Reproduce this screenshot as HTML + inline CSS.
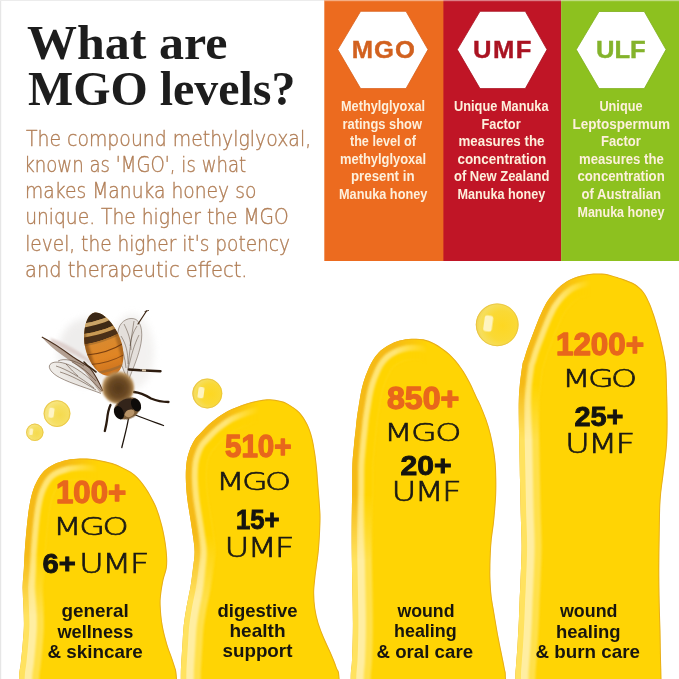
<!DOCTYPE html>
<html lang="en">
<head>
<meta charset="utf-8">
<title>What are MGO levels?</title>
<style>
html,body{margin:0;padding:0;background:#fff;}
body{width:679px;height:679px;overflow:hidden;position:relative;}
svg{display:block;position:absolute;left:0;top:0;}
text{white-space:pre;}
.title{font-family:"Liberation Serif","DejaVu Serif",serif;font-weight:700;fill:#1d1d1d;}
.body{font-family:"DejaVu Sans Light","DejaVu Sans","Liberation Sans",sans-serif;font-weight:200;fill:#b07d55;stroke:#b07d55;stroke-width:0.35;}
.pt{font-family:"Liberation Sans","DejaVu Sans",sans-serif;font-weight:700;fill:#fdf0dc;}
.hx{font-family:"Liberation Sans","DejaVu Sans",sans-serif;font-weight:700;stroke-width:0.4;}
.num{font-family:"Liberation Sans","DejaVu Sans",sans-serif;font-weight:700;fill:#e8671c;stroke:#e8671c;stroke-width:1.3;stroke-linejoin:round;}
.lt{font-family:"DejaVu Sans Light","DejaVu Sans","Liberation Sans",sans-serif;font-weight:200;fill:#1c1a14;stroke:#1c1a14;stroke-width:0.65;}
.bk{font-family:"Liberation Sans","DejaVu Sans",sans-serif;font-weight:700;fill:#15140f;stroke:#15140f;stroke-width:0.9;}
.use{font-family:"Liberation Sans","DejaVu Sans",sans-serif;font-weight:700;fill:#17150f;}
</style>
</head>
<body>
<svg width="679" height="679" viewBox="0 0 679 679">
<defs>
  <linearGradient id="hg" x1="0" y1="0" x2="1" y2="0">
    <stop offset="0" stop-color="#f9c116"/>
    <stop offset="0.12" stop-color="#fdca14"/>
    <stop offset="0.3" stop-color="#ffd20e"/>
    <stop offset="0.9" stop-color="#ffd10c"/>
    <stop offset="1" stop-color="#fbc40f"/>
  </linearGradient>
  <linearGradient id="lm" x1="0" y1="0" x2="1" y2="0">
    <stop offset="0" stop-color="#fff"/>
    <stop offset="0.3" stop-color="#fff"/>
    <stop offset="0.5" stop-color="#000"/>
    <stop offset="1" stop-color="#000"/>
  </linearGradient>
  <radialGradient id="bub" cx="0.62" cy="0.52" r="0.62">
    <stop offset="0" stop-color="#fdd722"/>
    <stop offset="0.55" stop-color="#fad935"/>
    <stop offset="0.85" stop-color="#f6de5c"/>
    <stop offset="1" stop-color="#f1d252"/>
  </radialGradient>
  <radialGradient id="bubp" cx="0.62" cy="0.55" r="0.62">
    <stop offset="0" stop-color="#f5da4e"/>
    <stop offset="0.55" stop-color="#f6df62"/>
    <stop offset="0.85" stop-color="#f7e57e"/>
    <stop offset="1" stop-color="#f3dc6c"/>
  </radialGradient>
  <filter id="b1" x="-20%" y="-20%" width="140%" height="140%"><feGaussianBlur stdDeviation="1.2"/></filter>
  <filter id="b2" x="-20%" y="-20%" width="140%" height="140%"><feGaussianBlur stdDeviation="2.2"/></filter>
  <filter id="b3" x="-20%" y="-20%" width="140%" height="140%"><feGaussianBlur stdDeviation="3.5"/></filter>
  <filter id="b05" x="-20%" y="-20%" width="140%" height="140%"><feGaussianBlur stdDeviation="0.6"/></filter>
  <path id="p1" d="M19.0,730.0 C19.0,721.5 18.8,690.0 19.1,679.0 C19.4,668.0 20.1,669.7 20.7,664.0 C21.3,658.3 22.1,651.4 22.6,645.0 C23.1,638.6 23.8,632.1 23.9,625.6 C24.0,619.1 23.6,612.4 23.4,606.0 C23.2,599.6 22.5,593.3 22.6,587.0 C22.7,580.7 23.5,574.3 23.9,568.0 C24.3,561.7 24.4,555.9 24.9,549.0 C25.4,542.1 26.1,533.5 26.8,526.6 C27.5,519.7 28.2,513.2 29.1,507.4 C30.1,501.6 31.1,496.5 32.5,492.0 C33.9,487.5 35.4,484.1 37.3,480.6 C39.2,477.1 41.3,473.7 44.0,471.0 C46.7,468.3 49.8,466.2 53.6,464.4 C57.4,462.6 62.6,461.0 67.0,460.0 C71.4,459.0 76.2,458.8 80.0,458.6 C83.8,458.4 86.7,458.5 90.0,458.8 C93.3,459.1 96.7,459.6 100.0,460.2 C103.3,460.8 106.8,461.7 110.0,462.6 C113.2,463.5 115.0,463.8 119.1,465.8 C123.2,467.8 130.0,470.8 134.5,474.5 C139.0,478.2 142.5,482.8 146.0,487.9 C149.5,493.0 152.9,499.4 155.5,505.1 C158.1,510.8 159.7,516.5 161.3,522.3 C162.9,528.0 164.2,534.2 165.1,539.6 C166.0,545.0 166.7,550.2 167.0,554.9 C167.3,559.6 167.4,563.8 166.8,568.0 C166.2,572.2 164.4,575.7 163.5,580.0 C162.6,584.3 161.7,589.6 161.2,594.0 C160.7,598.4 160.4,601.1 160.7,606.4 C160.9,611.7 161.6,619.2 162.7,625.6 C163.8,632.0 165.5,638.3 167.4,644.7 C169.3,651.1 172.5,658.2 174.1,663.9 C175.7,669.6 176.4,668.0 177.0,679.0 C177.6,690.0 177.4,721.5 177.5,730.0 Z"/>
  <clipPath id="c1"><use href="#p1"/></clipPath>
  <mask id="m1" maskUnits="userSpaceOnUse" x="0" y="250" width="679" height="450"><rect x="14" y="250" width="168" height="450" fill="url(#lm)"/></mask>
  <path id="p2" d="M180.8,730.0 C180.8,721.5 180.7,690.0 180.8,679.0 C180.9,668.0 180.9,669.7 181.2,664.0 C181.5,658.3 182.0,651.4 182.4,645.0 C182.8,638.6 183.0,632.0 183.7,625.6 C184.4,619.2 185.5,612.8 186.6,606.4 C187.7,600.0 189.3,593.7 190.4,587.3 C191.5,580.9 192.3,573.9 193.0,568.0 C193.7,562.1 194.6,557.4 194.6,552.0 C194.6,546.6 193.7,541.6 192.9,535.7 C192.1,529.8 191.0,523.0 190.0,516.6 C189.0,510.2 187.8,503.8 187.1,497.4 C186.4,491.0 185.9,484.2 185.8,478.3 C185.7,472.4 186.0,466.6 186.6,462.0 C187.2,457.4 188.2,454.1 189.5,450.4 C190.8,446.7 192.7,442.9 194.5,440.0 C196.3,437.1 197.7,436.1 200.6,433.0 C203.5,429.9 207.6,425.3 212.1,421.7 C216.6,418.1 221.7,414.2 227.4,411.2 C233.2,408.2 241.2,405.3 246.6,403.5 C252.0,401.7 256.1,401.0 260.0,400.3 C263.9,399.6 266.7,399.2 270.0,399.3 C273.3,399.4 276.9,400.0 280.0,400.8 C283.1,401.6 285.0,401.9 288.3,403.9 C291.6,405.8 296.6,409.1 299.8,412.5 C303.0,415.9 305.3,419.9 307.4,424.0 C309.5,428.1 310.9,432.6 312.2,437.4 C313.5,442.2 314.3,447.7 315.1,452.8 C315.9,457.9 316.4,462.4 317.0,468.1 C317.6,473.8 318.0,481.1 318.5,487.2 C319.0,493.3 319.6,499.6 319.9,505.0 C320.2,510.4 320.6,512.2 320.5,519.5 C320.4,526.8 319.9,539.2 319.0,549.0 C318.1,558.8 316.1,570.9 315.3,578.4 C314.5,585.9 314.2,588.7 314.2,593.7 C314.2,598.7 314.6,603.6 315.3,608.5 C316.0,613.4 317.1,618.3 318.6,623.2 C320.1,628.1 322.2,633.1 324.2,638.0 C326.2,642.9 328.7,647.7 330.8,652.6 C332.9,657.5 335.2,663.0 336.7,667.4 C338.2,671.8 339.1,668.6 339.6,679.0 C340.2,689.4 339.9,721.5 340.0,730.0 Z"/>
  <clipPath id="c2"><use href="#p2"/></clipPath>
  <mask id="m2" maskUnits="userSpaceOnUse" x="0" y="250" width="679" height="450"><rect x="175" y="250" width="169" height="450" fill="url(#lm)"/></mask>
  <path id="p3" d="M350.5,730.0 C350.5,721.5 350.4,690.7 350.7,679.0 C350.9,667.3 351.6,669.3 352.0,660.0 C352.4,650.7 352.9,636.5 352.9,623.0 C352.9,609.5 352.4,591.3 352.2,579.0 C352.0,566.7 351.8,558.9 351.7,549.0 C351.6,539.1 351.6,529.3 351.7,519.5 C351.8,509.7 352.1,499.2 352.2,490.0 C352.3,480.8 352.1,471.5 352.4,464.0 C352.7,456.5 353.5,450.7 354.0,445.0 C354.5,439.3 355.1,434.4 355.6,430.0 C356.1,425.6 356.3,422.3 356.8,418.4 C357.3,414.5 357.9,410.8 358.6,406.6 C359.3,402.4 360.0,397.5 360.8,393.3 C361.6,389.1 362.5,385.4 363.7,381.5 C364.9,377.6 366.5,373.5 368.1,369.8 C369.7,366.1 371.2,362.7 373.3,359.5 C375.4,356.3 378.0,353.1 380.7,350.6 C383.4,348.1 386.3,346.4 389.5,344.7 C392.7,343.0 396.1,341.6 399.8,340.6 C403.5,339.6 407.7,339.0 411.6,338.8 C415.5,338.6 419.5,338.5 423.4,339.3 C427.2,340.1 430.3,341.1 434.7,343.5 C439.1,345.9 445.1,350.0 449.5,354.0 C453.9,358.0 457.8,362.9 461.2,367.7 C464.6,372.4 467.4,377.6 470.0,382.5 C472.6,387.4 474.9,393.3 476.7,397.0 C478.4,400.7 478.9,400.9 480.5,404.7 C482.1,408.4 484.7,414.6 486.4,419.5 C488.1,424.4 489.6,429.3 490.8,434.2 C492.0,439.1 493.0,444.1 493.8,449.0 C494.6,453.9 495.3,458.7 495.7,463.6 C496.1,468.5 496.2,473.2 496.3,478.4 C496.4,483.6 496.4,489.5 496.2,494.7 C496.0,499.9 495.6,504.6 495.2,509.5 C494.8,514.4 494.4,519.3 493.8,524.2 C493.2,529.1 492.3,534.1 491.8,539.0 C491.3,543.9 491.0,548.7 490.8,553.6 C490.6,558.5 490.4,564.0 490.4,568.4 C490.3,572.8 490.3,575.6 490.5,580.0 C490.7,584.4 491.0,590.2 491.5,595.0 C492.0,599.8 492.4,601.3 493.6,608.5 C494.8,615.7 496.9,628.2 498.7,638.0 C500.5,647.8 503.4,660.6 504.6,667.4 C505.8,674.2 505.7,668.6 506.0,679.0 C506.3,689.4 506.2,721.5 506.3,730.0 Z"/>
  <clipPath id="c3"><use href="#p3"/></clipPath>
  <mask id="m3" maskUnits="userSpaceOnUse" x="0" y="250" width="679" height="450"><rect x="345" y="250" width="165" height="450" fill="url(#lm)"/></mask>
  <path id="p4" d="M515.2,730.0 C515.2,721.5 515.3,689.7 515.4,679.0 C515.5,668.3 515.6,671.4 516.0,665.7 C516.4,660.0 517.0,652.8 517.5,645.0 C518.0,637.2 518.5,626.5 518.9,619.0 C519.2,611.5 519.4,606.0 519.6,600.0 C519.9,594.0 520.1,591.6 520.4,583.0 C520.7,574.4 521.5,559.9 521.6,548.4 C521.7,536.9 521.0,525.4 520.7,514.0 C520.4,502.6 520.2,491.5 520.0,480.0 C519.8,468.5 519.5,455.0 519.3,445.0 C519.1,435.0 518.9,427.5 518.8,420.0 C518.7,412.5 518.6,405.8 518.8,400.0 C519.0,394.2 519.2,390.8 519.8,385.0 C520.4,379.2 521.7,369.3 522.4,365.0 C523.1,360.7 523.2,362.2 524.1,359.3 C525.0,356.4 526.4,351.4 527.8,347.5 C529.1,343.6 530.7,339.6 532.2,335.7 C533.7,331.8 535.1,327.8 536.7,323.9 C538.3,320.0 540.1,315.8 541.8,312.1 C543.5,308.4 545.0,305.0 547.0,301.8 C549.0,298.6 551.3,295.7 553.6,293.0 C555.9,290.3 558.3,287.8 561.0,285.6 C563.7,283.4 566.4,281.4 569.8,279.7 C573.2,278.0 577.7,276.6 581.6,275.6 C585.5,274.6 589.5,273.9 593.4,273.6 C597.3,273.3 601.4,273.3 605.0,273.8 C608.6,274.3 612.0,275.5 615.0,276.4 C618.0,277.3 619.9,277.7 623.2,279.0 C626.5,280.3 631.6,281.9 635.0,284.1 C638.4,286.3 641.3,289.0 643.8,292.2 C646.2,295.4 648.0,299.5 649.7,303.3 C651.4,307.1 652.6,310.7 654.1,315.1 C655.6,319.5 657.1,324.9 658.5,329.8 C659.9,334.7 661.1,339.6 662.2,344.5 C663.3,349.4 664.5,355.1 665.2,359.3 C665.9,363.6 666.0,363.6 666.4,370.0 C666.8,376.4 667.1,389.3 667.3,397.6 C667.5,405.9 667.6,412.1 667.6,420.0 C667.6,427.9 667.6,436.2 667.0,445.0 C666.4,453.8 664.9,463.4 663.8,472.6 C662.7,481.8 661.3,489.6 660.6,500.0 C659.9,510.4 659.9,523.2 659.7,534.7 C659.5,546.2 659.3,557.5 659.3,569.0 C659.3,580.5 659.5,593.3 659.7,603.6 C659.9,613.9 660.3,621.8 660.5,631.0 C660.7,640.2 660.8,650.8 661.0,658.8 C661.2,666.8 661.4,667.1 661.5,679.0 C661.6,690.9 661.8,721.5 661.8,730.0 Z"/>
  <clipPath id="c4"><use href="#p4"/></clipPath>
  <mask id="m4" maskUnits="userSpaceOnUse" x="0" y="250" width="679" height="450"><rect x="510" y="250" width="162" height="450" fill="url(#lm)"/></mask>
  <linearGradient id="abd" x1="0" y1="0" x2="0" y2="1">
    <stop offset="0" stop-color="#b98a4a"/><stop offset="0.42" stop-color="#d88a30"/><stop offset="0.7" stop-color="#e08524"/><stop offset="1" stop-color="#c96f1c"/>
  </linearGradient>
  <clipPath id="abdc"><path d="M0,-30.5 C8,-30.5 15.5,-17 17.8,-1 C20,14 15,34 1,35 C-13,35 -19.5,15 -17.8,-1 C-15.5,-17 -8,-30.5 0,-30.5 Z"/></clipPath>
  <radialGradient id="thx" cx="0.5" cy="0.5" r="0.5">
    <stop offset="0" stop-color="#553819"/><stop offset="0.65" stop-color="#6b4924"/><stop offset="1" stop-color="#94703f"/>
  </radialGradient>
  <linearGradient id="tg1" gradientUnits="userSpaceOnUse" x1="0" y1="555" x2="0" y2="615"><stop offset="0" stop-color="#fff"/><stop offset="1" stop-color="#000"/></linearGradient>
  <mask id="t1" maskUnits="userSpaceOnUse" x="0" y="250" width="679" height="450"><rect x="0" y="250" width="679" height="450" fill="url(#tg1)"/></mask>
  <linearGradient id="tg2" gradientUnits="userSpaceOnUse" x1="0" y1="535" x2="0" y2="600"><stop offset="0" stop-color="#fff"/><stop offset="1" stop-color="#000"/></linearGradient>
  <mask id="t2" maskUnits="userSpaceOnUse" x="0" y="250" width="679" height="450"><rect x="0" y="250" width="679" height="450" fill="url(#tg2)"/></mask>
  <linearGradient id="tg3" gradientUnits="userSpaceOnUse" x1="0" y1="495" x2="0" y2="560"><stop offset="0" stop-color="#fff"/><stop offset="1" stop-color="#000"/></linearGradient>
  <mask id="t3" maskUnits="userSpaceOnUse" x="0" y="250" width="679" height="450"><rect x="0" y="250" width="679" height="450" fill="url(#tg3)"/></mask>
  <linearGradient id="tg4" gradientUnits="userSpaceOnUse" x1="0" y1="385" x2="0" y2="440"><stop offset="0" stop-color="#fff"/><stop offset="1" stop-color="#000"/></linearGradient>
  <mask id="t4" maskUnits="userSpaceOnUse" x="0" y="250" width="679" height="450"><rect x="0" y="250" width="679" height="450" fill="url(#tg4)"/></mask>
</defs>
<rect width="679" height="679" fill="#ffffff"/>
<rect x="0" y="0" width="1.2" height="679" fill="#e6e6e6"/>
<rect x="0" y="0" width="324.3" height="1" fill="#ececec"/>
<rect x="324.3" y="0" width="120" height="261" fill="#ec6b1f"/>
<rect x="443.4" y="0" width="118" height="261" fill="#c01526"/>
<rect x="561.2" y="0" width="118" height="261" fill="#8dc11f"/>
<rect x="324.3" y="0" width="354.7" height="1.2" fill="#ffffff" opacity="0.45"/>
<polygon points="337.8,49.6 360.6,11.3 406,11.3 428,49.6 406,88.6 360.6,88.6" fill="#fff" stroke="#d9601a" stroke-width="0.8"/>
<polygon points="457.3,49.6 480,11.3 525.3,11.3 547,49.6 525.3,88.6 480,88.6" fill="#fff" stroke="#a80f1e" stroke-width="0.8"/>
<polygon points="576.3,49.6 599,11.5 644.3,11.5 666,49.6 644.3,88.6 599,88.6" fill="#fff" stroke="#7eae1a" stroke-width="0.8"/>
<text id="t1" class="hx" transform="translate(351.80 58.3) scale(1.0800 1)" font-size="23.7" letter-spacing="0.926" fill="#d2611f" stroke="#d2611f">MGO</text>
<text id="t2" class="hx" transform="translate(473.00 58.3) scale(1.0800 1)" font-size="23.7" letter-spacing="1.389" fill="#aa1322" stroke="#aa1322">UMF</text>
<text id="t3" class="hx" transform="translate(596.10 58.3) scale(1.0800 1)" font-size="23.7" letter-spacing="-0.095" fill="#84b32b" stroke="#84b32b">ULF</text>
<text id="t4" class="pt" transform="translate(341.00 111.1) scale(0.9152 1)" font-size="13.9">Methylglyoxal</text>
<text id="t5" class="pt" transform="translate(342.50 128.6) scale(0.9280 1)" font-size="13.9">ratings show</text>
<text id="t6" class="pt" transform="translate(349.95 146.1) scale(0.9094 1)" font-size="13.9">the level of</text>
<text id="t7" class="pt" transform="translate(339.97 163.6) scale(0.9299 1)" font-size="13.9">methylglyoxal</text>
<text id="t8" class="pt" transform="translate(350.99 181.1) scale(0.9567 1)" font-size="13.9">present in</text>
<text id="t9" class="pt" transform="translate(339.00 198.7) scale(0.9156 1)" font-size="13.9">Manuka honey</text>
<text id="t10" class="pt" transform="translate(453.98 111.1) scale(0.9209 1)" font-size="13.9">Unique Manuka</text>
<text id="t11" class="pt" transform="translate(481.52 128.6) scale(0.9216 1)" font-size="13.9">Factor</text>
<text id="t12" class="pt" transform="translate(458.50 146.1) scale(0.9598 1)" font-size="13.9">measures the</text>
<text id="t13" class="pt" transform="translate(457.43 163.6) scale(0.9662 1)" font-size="13.9">concentration</text>
<text id="t14" class="pt" transform="translate(453.96 181.1) scale(0.9361 1)" font-size="13.9">of New Zealand</text>
<text id="t15" class="pt" transform="translate(457.45 198.7) scale(0.9111 1)" font-size="13.9">Manuka honey</text>
<text id="t16" class="pt" transform="translate(599.45 111.1) scale(0.9141 1)" font-size="13.9">Unique</text>
<text id="t17" class="pt" transform="translate(572.51 128.6) scale(0.9724 1)" font-size="13.9">Leptospermum</text>
<text id="t18" class="pt" transform="translate(601.00 146.1) scale(0.9362 1)" font-size="13.9">Factor</text>
<text id="t19" class="pt" transform="translate(579.01 163.6) scale(0.9462 1)" font-size="13.9">measures the</text>
<text id="t20" class="pt" transform="translate(577.47 181.1) scale(0.9505 1)" font-size="13.9">concentration</text>
<text id="t21" class="pt" transform="translate(581.47 198.9) scale(0.9424 1)" font-size="13.9">of Australian</text>
<text id="t22" class="pt" transform="translate(577.48 216.7) scale(0.9006 1)" font-size="13.9">Manuka honey</text>
<text id="t23" class="title" transform="translate(27.00 59.4) scale(1.0205 1)" font-size="49">What are</text>
<text id="t24" class="title" transform="translate(28.00 105.2) scale(0.9779 1)" font-size="49">MGO levels?</text>
<text id="t25" class="body" transform="translate(26.00 145.8) scale(0.9158 1)" font-size="20.6">The compound methylglyoxal,</text>
<text id="t26" class="body" transform="translate(24.19 172.1) scale(0.8822 1)" font-size="20.6">known as 'MGO', is what</text>
<text id="t27" class="body" transform="translate(25.12 198.4) scale(0.9089 1)" font-size="20.6">makes Manuka honey so</text>
<text id="t28" class="body" transform="translate(25.14 224.4) scale(0.9072 1)" font-size="20.6">unique. The higher the MGO</text>
<text id="t29" class="body" transform="translate(25.21 250.8) scale(0.9013 1)" font-size="20.6">level, the higher it's potency</text>
<text id="t30" class="body" transform="translate(25.08 277.2) scale(0.9422 1)" font-size="20.6">and therapeutic effect.</text>
<g id="blobs">
 <g clip-path="url(#c1)">
  <use href="#p1" fill="#ffd404"/>
  <use href="#p1" fill="none" stroke="#e2a420" stroke-width="2" filter="url(#b05)" opacity="0.8"/>
  <g mask="url(#m1)">
   <use href="#p1" fill="none" stroke="#ffe04c" stroke-width="40" filter="url(#b1)"/>
   <use href="#p1" fill="none" stroke="#ffeea2" stroke-width="26" filter="url(#b1)"/>
   <use href="#p1" fill="none" stroke="#ffe25e" stroke-width="11" filter="url(#b05)"/>
   <g mask="url(#t1)"><use href="#p1" fill="none" stroke="#ffd404" stroke-width="42" filter="url(#b1)"/><use href="#p1" fill="none" stroke="#ffe576" stroke-width="24" filter="url(#b1)"/><use href="#p1" fill="none" stroke="#f5ba18" stroke-width="12" filter="url(#b1)"/></g>
  </g>
 </g>
 <g clip-path="url(#c2)">
  <use href="#p2" fill="#ffd404"/>
  <use href="#p2" fill="none" stroke="#e2a420" stroke-width="2" filter="url(#b05)" opacity="0.8"/>
  <g mask="url(#m2)">
   <use href="#p2" fill="none" stroke="#ffe04c" stroke-width="40" filter="url(#b1)"/>
   <use href="#p2" fill="none" stroke="#ffeea2" stroke-width="26" filter="url(#b1)"/>
   <use href="#p2" fill="none" stroke="#ffe25e" stroke-width="11" filter="url(#b05)"/>
   <g mask="url(#t2)"><use href="#p2" fill="none" stroke="#ffd404" stroke-width="42" filter="url(#b1)"/><use href="#p2" fill="none" stroke="#ffe576" stroke-width="24" filter="url(#b1)"/><use href="#p2" fill="none" stroke="#f5ba18" stroke-width="12" filter="url(#b1)"/></g>
  </g>
 </g>
 <g clip-path="url(#c3)">
  <use href="#p3" fill="#ffd404"/>
  <use href="#p3" fill="none" stroke="#e2a420" stroke-width="2" filter="url(#b05)" opacity="0.8"/>
  <g mask="url(#m3)">
   <use href="#p3" fill="none" stroke="#ffe04c" stroke-width="40" filter="url(#b1)"/>
   <use href="#p3" fill="none" stroke="#ffeea2" stroke-width="26" filter="url(#b1)"/>
   <use href="#p3" fill="none" stroke="#ffe25e" stroke-width="11" filter="url(#b05)"/>
   <g mask="url(#t3)"><use href="#p3" fill="none" stroke="#ffd404" stroke-width="42" filter="url(#b1)"/><use href="#p3" fill="none" stroke="#ffe576" stroke-width="24" filter="url(#b1)"/><use href="#p3" fill="none" stroke="#f5ba18" stroke-width="12" filter="url(#b1)"/></g>
  </g>
 </g>
 <g clip-path="url(#c4)">
  <use href="#p4" fill="#ffd404"/>
  <use href="#p4" fill="none" stroke="#e2a420" stroke-width="2" filter="url(#b05)" opacity="0.8"/>
  <g mask="url(#m4)">
   <use href="#p4" fill="none" stroke="#ffe04c" stroke-width="40" filter="url(#b1)"/>
   <use href="#p4" fill="none" stroke="#ffeea2" stroke-width="26" filter="url(#b1)"/>
   <use href="#p4" fill="none" stroke="#ffe25e" stroke-width="11" filter="url(#b05)"/>
   <g mask="url(#t4)"><use href="#p4" fill="none" stroke="#ffd404" stroke-width="42" filter="url(#b1)"/><use href="#p4" fill="none" stroke="#ffe576" stroke-width="24" filter="url(#b1)"/><use href="#p4" fill="none" stroke="#f5ba18" stroke-width="12" filter="url(#b1)"/></g>
  </g>
 </g>
</g>
<circle cx="57.0" cy="413.6" r="13.4" fill="url(#bubp)"/>
<circle cx="57.0" cy="413.6" r="12.9" fill="none" stroke="#e6bd3a" stroke-width="1" opacity="0.7"/>
<rect x="48.7" y="407.8" width="5.4" height="9.9" rx="1.6" fill="#fff7cf" opacity="0.9" transform="rotate(8 51.4 412.8)" filter="url(#b05)"/>
<circle cx="34.8" cy="432.3" r="8.7" fill="url(#bubp)"/>
<circle cx="34.8" cy="432.3" r="8.2" fill="none" stroke="#e6bd3a" stroke-width="1" opacity="0.7"/>
<rect x="29.4" y="428.6" width="3.5" height="6.4" rx="1.0" fill="#fff7cf" opacity="0.9" transform="rotate(8 31.1 431.8)" filter="url(#b05)"/>
<circle cx="207.3" cy="393.5" r="15.0" fill="url(#bub)"/>
<circle cx="207.3" cy="393.5" r="14.5" fill="none" stroke="#e6bd3a" stroke-width="1" opacity="0.7"/>
<rect x="198.0" y="387.1" width="6.0" height="11.1" rx="1.8" fill="#fff7cf" opacity="0.9" transform="rotate(8 201.0 392.6)" filter="url(#b05)"/>
<circle cx="497.2" cy="324.8" r="21.4" fill="url(#bub)"/>
<circle cx="497.2" cy="324.8" r="20.9" fill="none" stroke="#e6bd3a" stroke-width="1" opacity="0.7"/>
<rect x="483.9" y="315.6" width="8.6" height="15.8" rx="2.6" fill="#fff7cf" opacity="0.9" transform="rotate(8 488.2 323.5)" filter="url(#b05)"/>
<text id="t31" class="num" transform="translate(56.02 503.0) scale(1.0212 1)" font-size="30.5">100+</text>
<text id="t32" class="lt" transform="translate(53.00 535.4) scale(1.3000 1)" font-size="25.6" letter-spacing="-1.923">MGO</text>
<text id="t33" class="bk" transform="translate(42.42 573.4) scale(1.0412 1)" font-size="28">6+</text>
<text id="t34" class="lt" transform="translate(79.00 573.2) scale(1.3000 1)" font-size="26.2" letter-spacing="-1.385">UMF</text>
<text id="t35" class="use" transform="translate(61.51 617.4) scale(1.0376 1)" font-size="18.2">general</text>
<text id="t36" class="use" transform="translate(57.47 637.6) scale(1.0006 1)" font-size="18.2">wellness</text>
<text id="t37" class="use" transform="translate(47.47 657.8) scale(1.0351 1)" font-size="18.2">&amp; skincare</text>
<text id="t38" class="num" transform="translate(224.97 457.3) scale(0.9690 1)" font-size="30.5">510+</text>
<text id="t39" class="lt" transform="translate(216.00 489.6) scale(1.3000 1)" font-size="25.6" letter-spacing="-2.073">MGO</text>
<text id="t40" class="bk" transform="translate(235.99 529.2) scale(0.9184 1)" font-size="28">15+</text>
<text id="t41" class="lt" transform="translate(224.50 557.3) scale(1.3000 1)" font-size="26.2" letter-spacing="-1.538">UMF</text>
<text id="t42" class="use" transform="translate(217.51 617.4) scale(1.0162 1)" font-size="18.2">digestive</text>
<text id="t43" class="use" transform="translate(229.47 637.4) scale(1.0463 1)" font-size="18.2">health</text>
<text id="t44" class="use" transform="translate(222.47 657.4) scale(1.0329 1)" font-size="18.2">support</text>
<text id="t45" class="num" transform="translate(387.00 409.0) scale(1.0530 1)" font-size="30.5">850+</text>
<text id="t46" class="lt" transform="translate(384.00 440.7) scale(1.3000 1)" font-size="25.6" letter-spacing="-1.231">MGO</text>
<text id="t47" class="bk" transform="translate(400.47 474.6) scale(1.0768 1)" font-size="28">20+</text>
<text id="t48" class="lt" transform="translate(391.50 501.0) scale(1.3000 1)" font-size="26.2" letter-spacing="-1.464">UMF</text>
<text id="t49" class="use" transform="translate(397.42 617.4) scale(0.9745 1)" font-size="18.2">wound</text>
<text id="t50" class="use" transform="translate(394.00 637.4) scale(0.9842 1)" font-size="18.2">healing</text>
<text id="t51" class="use" transform="translate(376.50 657.8) scale(1.0264 1)" font-size="18.2">&amp; oral care</text>
<text id="t52" class="num" transform="translate(555.92 354.8) scale(1.0296 1)" font-size="30.5">1200+</text>
<text id="t53" class="lt" transform="translate(562.00 386.5) scale(1.3000 1)" font-size="25.6" letter-spacing="-2.080">MGO</text>
<text id="t54" class="bk" transform="translate(574.42 426.0) scale(1.0326 1)" font-size="28">25+</text>
<text id="t55" class="lt" transform="translate(565.00 453.0) scale(1.3000 1)" font-size="26.2" letter-spacing="-1.462">UMF</text>
<text id="t56" class="use" transform="translate(559.96 617.4) scale(0.9810 1)" font-size="18.2">wound</text>
<text id="t57" class="use" transform="translate(556.00 637.6) scale(1.0132 1)" font-size="18.2">healing</text>
<text id="t58" class="use" transform="translate(535.47 657.7) scale(1.0343 1)" font-size="18.2">&amp; burn care</text>
<g id="bee">
  <!-- soft shadow -->
  <ellipse cx="88" cy="352" rx="30" ry="34" fill="#e9e7e6" filter="url(#b3)" opacity="0.75"/>
  <ellipse cx="132" cy="352" rx="22" ry="38" fill="#eeecea" filter="url(#b3)" opacity="0.7"/>
  <!-- left wings -->
  <path d="M50,338 C64,342 82,352 96,366 C90,363 70,352 52,343 Z" fill="#d9c8c4" opacity="0.8" filter="url(#b1)"/>
  <path d="M41.8,336.9 C52,342 63,349.5 72.7,356.8 C79,361 85,364.5 89.5,367.5 C95,374 99,382 103,391 L100,392.5 C95,386 90,378 84.5,371.5 C78,366 70,360.5 62,355 C54,349.5 47,343 41.8,336.9 Z" fill="#8a6a55" opacity="0.6"/>
  <path d="M41.8,336.9 C52,342 63,349.5 72.7,356.8 C79,361 85,364.5 89.5,367.5 C95,374 99,382 103,391" fill="none" stroke="#4a2e1c" stroke-width="1.1"/>
  <path d="M101,393.5 C90,389 72,384 59.5,377.5 C52,373.5 47.5,368 50,364.5 C53,361 60,361.5 68,364.5 C80,369.5 92,380 102,391 Z" fill="#cfc4b8" opacity="0.33"/>
  <path d="M101,393.5 C90,389 72,384 59.5,377.5 C52,373.5 47.5,368 50,364.5 C53,361 60,361.5 68,364.5 C80,369.5 92,380 102,391 M56,366 C66,369 80,377 94,388 M60,372 C70,375 82,381 96,390 M66,364 C70,368 72,371 78,376 M72,362 C80,366 88,372 96,381 M58,361 C64,358 74,360 84,366" fill="none" stroke="#4a3220" stroke-width="0.6" opacity="0.85"/>
  <!-- right wing -->
  <path d="M127,378 C119,362 115,342 118.5,329 C121,320 130,316.5 136,319.5 C142.5,323.5 143,336 140,348 C137,360 132,371 129,379 Z" fill="#c9c0b6" opacity="0.36"/>
  <path d="M127,378 C119,362 115,342 118.5,329 C121,320 130,316.5 136,319.5 C142.5,323.5 143,336 140,348 C137,360 132,371 129,379 M134,321 C131,338 129,358 127,377 M139,335 C134,345 131,356 128,370 M121,336 C126,344 128,352 128,364 M124,324 C128,332 131,340 131,350 M137,326 C133,332 131,338 130,346 M119,342 C123,350 125,358 126,368" fill="none" stroke="#4a3828" stroke-width="0.6" opacity="0.75"/>
  <!-- hind leg tip top right -->
  <path d="M138,324 L146.5,311" stroke="#3a2412" stroke-width="1.2" fill="none" stroke-linecap="round"/>
  <path d="M145,311.5 L148.5,310.5" stroke="#3a2412" stroke-width="0.9" fill="none" stroke-linecap="round"/>
  <!-- legs -->
  <path d="M129,369.5 L140,370.3 L160.5,371.2" stroke="#2e1d10" stroke-width="2.4" fill="none" stroke-linecap="round"/>
  <path d="M142,370.3 L146,370.5" stroke="#d9c4a6" stroke-width="2" fill="none"/>
  <path d="M134,392 C140,392.5 146,395.5 151,398.5 C157,401 163,402 168.5,402" stroke="#2a1a0e" stroke-width="2.3" fill="none" stroke-linecap="round"/>
  <path d="M110.5,405 C108,410 107.5,415 107,420 C106.5,424 105.5,428 104.8,431" stroke="#2a1a0e" stroke-width="2.3" fill="none" stroke-linecap="round"/>
  <path d="M96,372 L88,366 L84,362" stroke="#3a2412" stroke-width="1.6" fill="none" stroke-linecap="round"/>
  <!-- antennae -->
  <path d="M128.5,418 C127,428 124,438 121.8,447.5" stroke="#1e140c" stroke-width="1.3" fill="none" stroke-linecap="round"/>
  <path d="M135.5,415 C144,418.5 154,422 163.5,425.5" stroke="#1e140c" stroke-width="1.3" fill="none" stroke-linecap="round"/>
  <!-- abdomen -->
  <g transform="translate(102.3 342) rotate(-16)">
    <path d="M0,-30.5 C8,-30.5 15.5,-17 17.8,-1 C20,14 15,34 1,35 C-13,35 -19.5,15 -17.8,-1 C-15.5,-17 -8,-30.5 0,-30.5 Z" fill="url(#abd)"/>
    <g clip-path="url(#abdc)">
      <path d="M-20,-32 L20,-32 L20,-24 C8,-21.5 -8,-21.5 -20,-24 Z" fill="#3a2816"/>
      <path d="M-20,-24 C-8,-21.5 8,-21.5 20,-24 L20,-20 C8,-17.5 -8,-17.5 -20,-20 Z" fill="#c9a467"/>
      <path d="M-20,-20 C-8,-17.5 8,-17.5 20,-20 L20,-13.5 C8,-11 -8,-11 -20,-13.5 Z" fill="#3e2a16"/>
      <path d="M-20,-13.5 C-8,-11 8,-11 20,-13.5 L20,-10 C8,-7.5 -8,-7.5 -20,-10 Z" fill="#c79a55"/>
      <path d="M-20,-10 C-8,-7.5 8,-7.5 20,-10 L20,-4.5 C8,-1.5 -8,-1 -20,-3 Z" fill="#4a3018"/>
      <path d="M-20,-3 C-8,-1 8,-1.5 20,-4.5 L20,-2.5 C8,0.5 -8,1 -20,-1 Z" fill="#b5762c"/>
      <path d="M-20,8 C-8,10.5 8,10.5 20,7" stroke="#7a3f10" stroke-width="1" fill="none"/>
      <path d="M-20,18 C-8,21 8,21 20,17.5" stroke="#8a4a14" stroke-width="1" fill="none"/><path d="M-20,27 C-8,30 8,30 20,26" stroke="#9a6a34" stroke-width="2.5" fill="none" opacity="0.7"/>
      <rect x="-20" y="-31" width="6" height="62" fill="#5a3210" opacity="0.45" filter="url(#b1)"/>
      <rect x="14" y="-31" width="6" height="62" fill="#5a3210" opacity="0.35" filter="url(#b1)"/>
    </g>
  </g>
  <!-- thorax -->
  <circle cx="118" cy="387.5" r="16" fill="#b98f58" filter="url(#b1)" opacity="0.95"/>
  <circle cx="118.4" cy="388.4" r="14.2" fill="url(#thx)" filter="url(#b1)"/>
  <!-- head -->
  <g transform="translate(127.3 408.3) rotate(-25)">
    <ellipse cx="0" cy="0" rx="13.6" ry="10.6" fill="#7a5c38" filter="url(#b05)"/>
    <ellipse cx="0" cy="-2.5" rx="10" ry="7" fill="#33241a"/>
    <ellipse cx="-9.4" cy="0.5" rx="4.6" ry="7" fill="#0e0b09"/>
    <ellipse cx="9.4" cy="0.5" rx="4.6" ry="7" fill="#0e0b09"/>
    <ellipse cx="0" cy="5.5" rx="5" ry="3.6" fill="#b89468"/>
  </g>
</g>

</svg>
</body>
</html>
